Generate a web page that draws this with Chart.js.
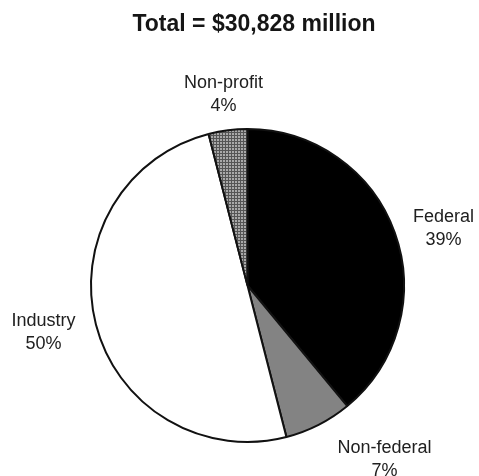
<!DOCTYPE html>
<html>
<head>
<meta charset="utf-8">
<script src="https://cdn.jsdelivr.net/npm/chart.js@4.4.1/dist/chart.umd.min.js"></script>
<style>
  html, body { margin: 0; padding: 0; background: #fff; }
</style>
</head>
<body>
<canvas id="rdChart" width="479" height="476"></canvas>
<script>
const sources = ['Federal', 'Non-federal', 'Industry', 'Non-profit'];
const shares = [39, 7, 50, 4];
const totalLabel = 'Total = $30,828 million';

// where each slice label sits, in px from the pie centre
const labelOffsets = [[196, -57], [137, 174], [-204, 47], [-24, -191]];

// fine cross-hatch used for the small slice
const hatch = (() => {
  const c = document.createElement('canvas');
  c.width = 3; c.height = 3;
  const g = c.getContext('2d');
  g.fillStyle = '#a9a9a9';
  g.fillRect(0, 0, 3, 3);
  g.fillStyle = '#555';
  g.fillRect(0, 0, 3, 1);
  g.fillRect(0, 0, 1, 3);
  return g.createPattern(c, 'repeat');
})();

const annotate = {
  id: 'annotate',
  afterDraw(chart) {
    const ctx = chart.ctx;
    const arcs = chart.getDatasetMeta(0).data;
    ctx.save();
    ctx.fillStyle = '#151515';
    ctx.textAlign = 'center';
    ctx.textBaseline = 'alphabetic';
    ctx.font = 'bold 23px "Liberation Sans", Arial, sans-serif';
    ctx.fillText(totalLabel, 254, 31);

    ctx.font = '18px "Liberation Sans", Arial, sans-serif';
    ctx.fillStyle = '#202020';
    ctx.textBaseline = 'middle';
    arcs.forEach((arc, i) => {
      const x = arc.x + labelOffsets[i][0];
      const y = arc.y + labelOffsets[i][1];
      ctx.fillText(sources[i], x, y - 11.5);
      ctx.fillText(shares[i] + '%', x, y + 11.5);
    });
    ctx.restore();
  }
};

new Chart(document.getElementById('rdChart'), {
  type: 'pie',
  data: {
    labels: sources,
    datasets: [{
      data: shares,
      backgroundColor: ['#000000', '#838383', '#ffffff', hatch],
      borderColor: '#111',
      borderWidth: 2
    }]
  },
  options: {
    responsive: false,
    animation: false,
    events: [],
    layout: { padding: { top: 128, bottom: 33, left: 30, right: 14 } },
    plugins: {
      legend: { display: false },
      tooltip: { enabled: false },
      title: { display: false }
    }
  },
  plugins: [annotate]
});
</script>
</body>
</html>
